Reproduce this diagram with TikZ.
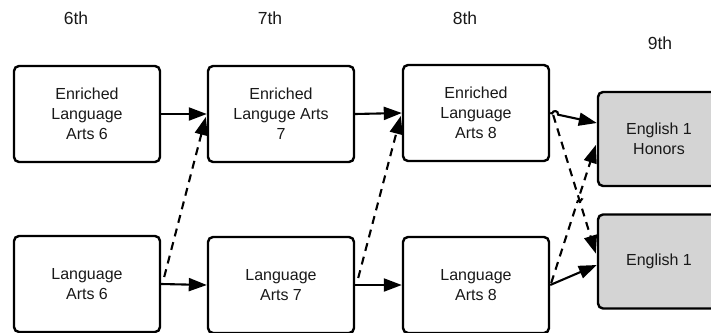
\documentclass[tikz,border=0pt]{standalone}
\usepackage{fontspec}
\setmainfont{Liberation Sans}
\usetikzlibrary{arrows.meta,calc}
\begin{document}
\begin{tikzpicture}[x=1pt,y=-1pt,
  course/.style={draw=black,line width=2.4pt,rounded corners=5pt,fill=white,
    minimum width=146pt,minimum height=96pt,align=center,
    font=\fontsize{16}{20}\selectfont,text=black!90},
  final/.style={course,fill=black!17,minimum width=122pt,minimum height=94pt},
  grade/.style={font=\fontsize{17.5}{20}\selectfont,text=black!90},
  conn/.style={line width=2.1pt,-{Triangle[length=18pt,width=13pt]}},
  alt/.style={conn,dash pattern=on 8pt off 6pt}]
\useasboundingbox (0,0) rectangle (711,332);
\clip (0,0) rectangle (711,332);
\node[grade] (g6) at (76,18) {6th};
\node[grade] (g7) at (270,18) {7th};
\node[grade] (g8) at (465,18) {8th};
\node[grade] (g9) at (660,43) {9th};
\node[course] (A1) at (87,114) {Enriched\\Language\\Arts 6};
\node[course] (A2) at (281,114) {Enriched\\Languge Arts\\7};
\node[course] (A3) at (476,113) {Enriched\\Language\\Arts 8};
\node[course] (B1) at (87,284) {Language\\Arts 6};
\node[course] (B2) at (281,285) {Language\\Arts 7};
\node[course] (B3) at (476,285) {Language\\Arts 8};
\node[final] (C1) at (659,139) {English 1\\Honors};
\node[final] (C2) at (659,261.5) {English 1};
% horizontal progressions
\draw[conn] (A1.east) -- (A2.west);
\draw[conn] (A2.east) -- (A3.west);
\draw[conn] (B1.east) -- (B2.west);
\draw[conn] (B2.east) -- (B3.west);
% dashed moves up
\draw[alt] ($(B1.east)+(3,-7)$) -- ($(A2.west)+(-1,3)$);
\draw[alt] ($(B2.east)+(3,-7)$) -- ($(A3.west)+(-1,3)$);
% 8th to 9th
\coordinate (s1) at (A3.east);
\coordinate (e1) at ($(C1.west)+(0,-16)$);
\coordinate (h1a) at ($(s1)!2pt!(e1)$);
\coordinate (h1b) at ($(s1)!8pt!(e1)$);
\draw[conn] (s1) -- (h1a) .. controls ($(h1a)!0.67!90:(h1b)$) and ($(h1b)!0.67!-90:(h1a)$) .. (h1b) -- (e1);
\draw[alt] ($(A3.east)+(3,2)$) -- ($(C2.west)+(-1,-8)$);
\coordinate (s2) at ($(B3.east)+(1,-2)$);
\coordinate (e2) at ($(C1.west)+(-1,6)$);
\coordinate (h2a) at ($(s2)!0.595!(e2)$);
\coordinate (h2b) at ($(s2)!0.645!(e2)$);
\draw[alt] (s2) -- (h2a) .. controls ($(h2a)!0.67!-90:(h2b)$) and ($(h2b)!0.67!90:(h2a)$) .. (h2b) -- (e2);
\draw[conn] (B3.east) -- ($(C2.west)+(0,3.5)$);
\end{tikzpicture}
\end{document}
